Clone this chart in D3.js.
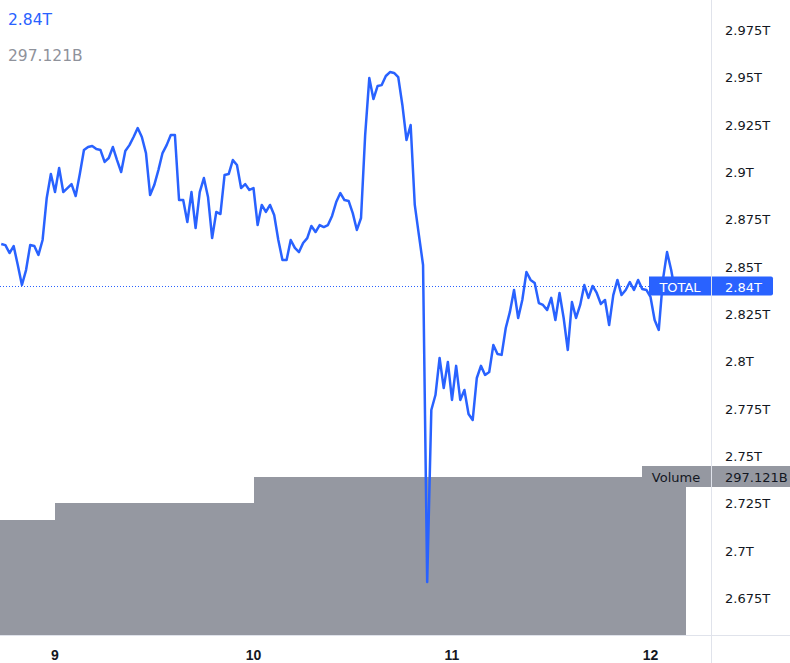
<!DOCTYPE html>
<html>
<head>
<meta charset="utf-8">
<script src="https://cdn.jsdelivr.net/npm/d3@7"></script>
<style>
  body { margin: 0; background: #fff; }
  svg { display: block; }
</style>
</head>
<body>
<div id="chart"></div>
<script>
// TOTAL market cap (T), one reading every 30 minutes from 8 Nov 17:30 UTC
const startTime = Date.UTC(2021, 10, 8, 17, 30)
const stepMinutes = 30
const total = [
  2.8620, 2.8614, 2.8572, 2.8609, 2.8509, 2.8403, 2.8482, 2.8614, 2.8609, 2.8562,
  2.8641, 2.8863, 2.8989, 2.8894, 2.9021, 2.8894, 2.8915, 2.8936, 2.8873, 2.8989,
  2.9116, 2.9132, 2.9137, 2.9121, 2.9116, 2.9053, 2.9074, 2.9132, 2.9063, 2.9000,
  2.9111, 2.9142, 2.9185, 2.9232, 2.9185, 2.9100, 2.8878, 2.8931, 2.9010, 2.9100,
  2.9142, 2.9195, 2.9195, 2.8852, 2.8852, 2.8736, 2.8894, 2.8704, 2.8894, 2.8968,
  2.8868, 2.8651, 2.8789, 2.8778, 2.8984, 2.8989, 2.9063, 2.9037, 2.8915, 2.8936,
  2.8905, 2.8915, 2.8720, 2.8826, 2.8789, 2.8826, 2.8773, 2.8641, 2.8535, 2.8535,
  2.8641, 2.8599, 2.8577, 2.8625, 2.8651, 2.8715, 2.8683, 2.8720, 2.8709, 2.8720,
  2.8768, 2.8841, 2.8889, 2.8852, 2.8847, 2.8783, 2.8694, 2.8757, 2.9195, 2.9496,
  2.9385, 2.9454, 2.9459, 2.9507, 2.9528, 2.9523, 2.9501, 2.9354, 2.9169, 2.9248,
  2.8826, 2.8667, 2.8509, 2.6835, 2.7743, 2.7822, 2.8018, 2.7859, 2.7997, 2.7796,
  2.7976, 2.7796, 2.7849, 2.7722, 2.7690, 2.7912, 2.7976, 2.7928, 2.7944, 2.8086,
  2.8039, 2.8034, 2.8176, 2.8261, 2.8377, 2.8229, 2.8324, 2.8472, 2.8430, 2.8414,
  2.8308, 2.8298, 2.8271, 2.8335, 2.8218, 2.8361, 2.8229, 2.8060, 2.8313, 2.8229,
  2.8298, 2.8403, 2.8335, 2.8398, 2.8361, 2.8303, 2.8324, 2.8192, 2.8350, 2.8430,
  2.8350, 2.8377, 2.8419, 2.8377, 2.8430, 2.8382, 2.8377, 2.8340, 2.8218, 2.8166,
  2.8430, 2.8577, 2.8482, 2.8361, 2.8398, 2.8400
]

// daily volume (B)
const volDays = ["2021-11-08", "2021-11-09", "2021-11-10", "2021-11-11", "2021-11-12"]
const volValues = [216.3, 248.2, 297.1, 297.1, 297.121]
const volEnd = "2021-11-12T04:15:00Z"

const yTicks = [2.675, 2.7, 2.725, 2.75, 2.775, 2.8, 2.825, 2.85, 2.875, 2.9, 2.925, 2.95, 2.975]
const xTicks = ["2021-11-09", "2021-11-10", "2021-11-11", "2021-11-12"]
const xTickLabels = ["9", "10", "11", "12"]

const lastValueLabel = "2.84T"
const lastVolumeLabel = "297.121B"

const width = 790
const height = 663
const axisX = 711
const axisY = 635
const blue = "#2962ff"
const grey = "#9598a1"
const ink = "#131722"
const font = "DejaVu Sans, sans-serif"

const times = total.map((d, i) => new Date(startTime + i * stepMinutes * 60000))

const x = d3.scaleUtc()
  .domain([new Date(xTicks[0]), new Date(xTicks[3])])
  .range([55, 650.5])

const y = d3.scaleLinear()
  .domain([2.675, 2.975])
  .range([598, 30])

const yVol = d3.scaleLinear()
  .domain([0, d3.max(volValues)])
  .range([axisY, 477])

const svg = d3.select("#chart").append("svg")
  .attr("width", width)
  .attr("height", height)

const pane = svg.append("g")

// volume steps, drawn as one stepped area so no seams show
const endDate = new Date(volEnd)
const volPts = []
volDays.forEach((d, i) => {
  const a = Math.max(0, x(new Date(d)))
  const b = Math.min(x(d3.utcDay.offset(new Date(d), 1)), x(endDate))
  volPts.push([a, yVol(volValues[i])], [b, yVol(volValues[i])])
})
pane.append("path")
  .attr("d", d3.area().x(p => Math.round(p[0])).y0(axisY).y1(p => Math.round(p[1]))(volPts))
  .attr("fill", grey)
  .attr("shape-rendering", "crispEdges")

// price line
const line = d3.line()
  .x((d, i) => x(times[i]))
  .y(d => y(d))

pane.append("path")
  .datum(total)
  .attr("fill", "none")
  .attr("stroke", blue)
  .attr("stroke-width", 2.5)
  .attr("stroke-linejoin", "round")
  .attr("d", line)

// last value dotted line
const lastY = Math.round(y(total[total.length - 1])) + 0.5
pane.append("line")
  .attr("x1", 0).attr("x2", axisX)
  .attr("y1", lastY).attr("y2", lastY)
  .attr("stroke", blue)
  .attr("stroke-width", 1)
  .attr("stroke-dasharray", "1 2")

// separators
svg.append("line")
  .attr("x1", axisX + 0.5).attr("x2", axisX + 0.5)
  .attr("y1", 0).attr("y2", height)
  .attr("stroke", "#e0e3eb")
svg.append("line")
  .attr("x1", 0).attr("x2", width)
  .attr("y1", axisY + 0.5).attr("y2", axisY + 0.5)
  .attr("stroke", "#e0e3eb")

// y axis labels
svg.append("g").selectAll("text")
  .data(yTicks)
  .join("text")
  .attr("x", 725)
  .attr("y", d => y(d) + 5)
  .attr("fill", ink)
  .attr("font-family", font)
  .attr("font-size", 13)
  .text(d => +d.toFixed(3) + "T")

// x axis labels
svg.append("g").selectAll("text")
  .data(xTicks)
  .join("text")
  .attr("x", d => x(new Date(d)))
  .attr("y", 660)
  .attr("text-anchor", "middle")
  .attr("fill", ink)
  .attr("font-family", "Liberation Sans, Arial, sans-serif")
  .attr("font-weight", "bold")
  .attr("font-size", 14)
  .text((d, i) => xTickLabels[i])

// TOTAL labels
svg.append("rect")
  .attr("x", 649).attr("y", lastY - 10)
  .attr("width", axisX - 649).attr("height", 19)
  .attr("fill", blue)
svg.append("text")
  .attr("x", 680).attr("y", lastY + 5)
  .attr("text-anchor", "middle")
  .attr("fill", "#fff")
  .attr("font-family", font)
  .attr("font-size", 13)
  .text("TOTAL")
svg.append("path")
  .attr("d", `M${axisX + 1},${lastY - 10}h59a2,2 0 0 1 2,2v15a2,2 0 0 1 -2,2h-59z`)
  .attr("fill", blue)
svg.append("text")
  .attr("x", 725).attr("y", lastY + 5)
  .attr("fill", "#fff")
  .attr("font-family", font)
  .attr("font-size", 13)
  .text(lastValueLabel)

// Volume labels
const volY = yVol(volValues[volValues.length - 1])
svg.append("rect")
  .attr("x", 642).attr("y", volY - 11)
  .attr("width", axisX - 642).attr("height", 21)
  .attr("fill", grey)
svg.append("text")
  .attr("x", 676).attr("y", volY + 5)
  .attr("text-anchor", "middle")
  .attr("fill", ink)
  .attr("font-family", font)
  .attr("font-size", 13)
  .text("Volume")
svg.append("rect")
  .attr("x", axisX + 1).attr("y", volY - 11)
  .attr("width", width - axisX).attr("height", 21)
  .attr("fill", grey)
svg.append("text")
  .attr("x", 725).attr("y", volY + 5)
  .attr("fill", ink)
  .attr("font-family", font)
  .attr("font-size", 13)
  .text(lastVolumeLabel)

// legend
svg.append("text")
  .attr("x", 8).attr("y", 25)
  .attr("fill", blue)
  .attr("font-family", font)
  .attr("font-size", 15.5)
  .text(lastValueLabel)
svg.append("text")
  .attr("x", 8).attr("y", 61)
  .attr("fill", "#8f929b")
  .attr("font-family", font)
  .attr("font-size", 15.5)
  .text(lastVolumeLabel)
</script>
</body>
</html>
